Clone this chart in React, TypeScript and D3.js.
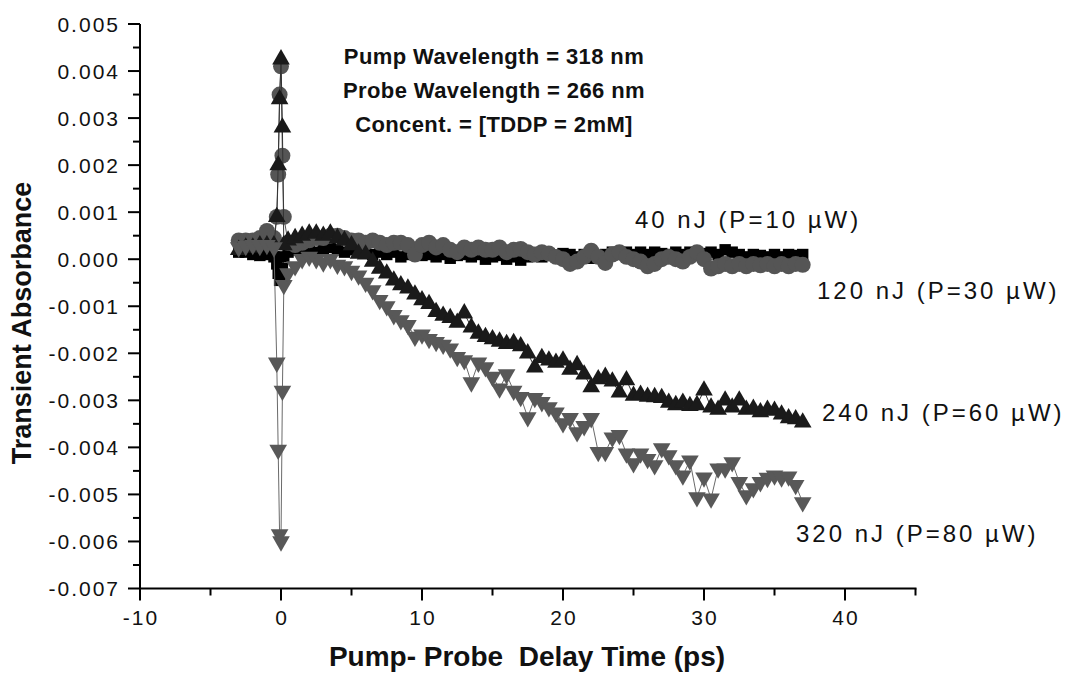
import React from "react";
import * as d3 from "d3";

// Delay times (ps)
const times = [
  -3, -2.5, -2, -1.5, -1, -0.5,
  -0.3, -0.2, -0.1, 0, 0.1, 0.2,
  0.5, 1, 1.5, 2, 2.5, 3, 3.5, 4, 4.5, 5,
  5.5, 6, 6.5, 7, 7.5, 8, 8.5, 9, 9.5, 10,
  10.5, 11, 11.5, 12, 12.5, 13, 13.5, 14, 14.5, 15,
  15.5, 16, 16.5, 17, 17.5, 18, 18.5, 19, 19.5, 20,
  20.5, 21, 21.5, 22, 22.5, 23, 23.5, 24, 24.5, 25,
  25.5, 26, 26.5, 27, 27.5, 28, 28.5, 29, 29.5, 30,
  30.5, 31, 31.5, 32, 32.5, 33, 33.5, 34, 34.5, 35,
  35.5, 36, 36.5, 37,
];

// Transient absorbance, in units of 1e-3
const s40 = [
  0.15, 0.15, 0.1, 0.08, 0.1, 0.05,
  -0.1, -0.3, -0.45, -0.4, -0.2, 0.05,
  0.15, 0.2, 0.15, 0.2, 0.15, 0.2, 0.25, 0.2, 0.15, 0.2,
  0.15, 0.2, 0.1, 0.15, 0.1, 0.15, 0.05, 0.1, 0.15, 0.08,
  0.1, 0.05, 0.1, 0.02, 0.08, 0.1, 0.05, 0.1, 0.0, 0.05,
  0.08, 0.0, 0.05, -0.02, 0.05, 0.1, 0.05, 0.12, 0.08, 0.12,
  0.1, 0.05, 0.1, 0.02, 0.05, 0.1, 0.15, 0.1, 0.15, 0.1,
  0.15, 0.1, 0.15, 0.12, 0.1, 0.15, 0.1, 0.15, 0.08, 0.12,
  0.15, 0.1, 0.2, 0.15, 0.1, 0.05, 0.1, 0.08, 0.05, 0.1,
  0.05, 0.1, 0.08, 0.1,
];

const s120 = [
  0.4, 0.4, 0.4, 0.45, 0.6, 0.45,
  0.9, 1.8, 3.5, 4.1, 2.2, 0.9,
  0.35, 0.3, 0.35, 0.4, 0.45, 0.45, 0.5, 0.5, 0.45, 0.4,
  0.4, 0.35, 0.4, 0.35, 0.3, 0.35, 0.35, 0.3, 0.1, 0.3,
  0.35, 0.25, 0.3, 0.2, 0.15, 0.25, 0.2, 0.25, 0.2, 0.2,
  0.25, 0.15, 0.2, 0.22, 0.15, 0.1, 0.15, 0.12, 0.05, 0.0,
  -0.1, -0.05, 0.05, 0.18, 0.05, -0.08, 0.1, 0.15, 0.05, 0.0,
  -0.05, -0.15, -0.1, 0.0, 0.05, 0.0, -0.05, 0.05, 0.15, 0.0,
  -0.2, -0.15, -0.1, -0.15, -0.1, -0.15, -0.1, -0.13, -0.1, -0.15,
  -0.1, -0.15, -0.1, -0.12,
];

const s240 = [
  0.2, 0.25, 0.25, 0.3, 0.3, 0.3,
  0.9, 2.0, 3.4, 4.25, 2.8, 0.3,
  0.4, 0.45, 0.5, 0.55, 0.55, 0.5, 0.55, 0.45, 0.4, 0.3,
  0.12, 0.1, -0.05, -0.2, -0.3, -0.45, -0.55, -0.62, -0.75, -0.87,
  -0.95, -1.12, -1.2, -1.25, -1.35, -1.15, -1.45, -1.58, -1.65, -1.7,
  -1.75, -1.8, -1.78, -1.85, -2.0, -2.3, -2.1, -2.15, -2.2, -2.15,
  -2.35, -2.25, -2.45, -2.72, -2.55, -2.5, -2.6, -2.83, -2.57, -2.9,
  -2.88, -2.92, -2.93, -2.95, -3.05, -3.1, -3.05, -3.12, -3.1, -2.79,
  -3.15, -3.2, -3.0, -3.15, -3.0, -3.2, -3.18, -3.25, -3.2, -3.22,
  -3.3, -3.38, -3.4, -3.47,
];

const s320 = [
  0.25, 0.28, 0.3, 0.28, 0.3, 0.25,
  -2.2, -4.05, -5.85, -6.0, -2.8, -0.55,
  -0.3, -0.15, 0.0, 0.05, 0.0, -0.07, 0.0, -0.12, -0.15, -0.25,
  -0.35, -0.5, -0.66, -0.87, -1.0, -1.19, -1.3, -1.4, -1.65, -1.6,
  -1.7, -1.76, -1.82, -1.9, -2.08, -2.15, -2.62, -2.2, -2.3, -2.5,
  -2.75, -2.45, -2.8, -2.93, -3.36, -2.95, -3.04, -3.15, -3.26, -3.49,
  -3.38, -3.68, -3.55, -3.38, -4.1, -4.1, -3.79, -3.74, -4.13, -4.34,
  -4.13, -4.25, -4.38, -4.02, -4.17, -4.38, -4.6, -4.28, -5.06, -4.64,
  -5.09, -4.45, -4.45, -4.32, -4.74, -5.02, -4.87, -4.74, -4.65, -4.6,
  -4.64, -4.62, -4.8, -5.17,
];

const seriesLabels = ["40 nJ (P=10 µW)", "120 nJ (P=30 µW)", "240 nJ (P=60 µW)", "320 nJ (P=80 µW)"];
const notes = ["Pump Wavelength = 318 nm", "Probe Wavelength = 266 nm", "Concent. = [TDDP = 2mM]"];
const xTitle = "Pump- Probe  Delay Time (ps)";
const yTitle = "Transient Absorbance";
const xMajor = [-10, 0, 10, 20, 30, 40];
const xMinor = [-5, 5, 15, 25, 35, 45];
const yMajor = [-7, -6, -5, -4, -3, -2, -1, 0, 1, 2, 3, 4, 5];

const FONT = "Arial, 'Liberation Sans', Helvetica, sans-serif";

export default function App() {
  const W = 1066, H = 673;
  const x = d3.scaleLinear().domain([-10, 45]).range([140, 915.5]);
  const y = d3.scaleLinear().domain([-7, 5]).range([588.5, 24]);
  const yMinor = yMajor.slice(0, -1).map((v) => v + 0.5);

  const line = (vals: number[]) =>
    d3.line<number>().x((_, i) => x(times[i])).y((v) => y(v))(vals) || "";

  const sq = d3.symbol().type(d3.symbolSquare).size(130)() || "";
  const circ = d3.symbol().type(d3.symbolCircle).size(200)() || "";
  const tri = d3.symbol().type(d3.symbolTriangle).size(135)() || "";

  const series = [
    { vals: s40, path: sq, color: "#000000", rot: 0, line: "#000000" },
    { vals: s120, path: circ, color: "#555555", rot: 0, line: "#555555" },
    { vals: s240, path: tri, color: "#1a1a1a", rot: 0, line: "#333333" },
    { vals: s320, path: tri, color: "#585858", rot: 180, line: "#6a6a6a" },
  ];

  const labelPos = [
    { x: 635, y: 228 },
    { x: 817, y: 299 },
    { x: 822, y: 421 },
    { x: 796, y: 542 },
  ];

  return (
    <svg
      width={W}
      height={H}
      style={{ position: "absolute", left: 0, top: 0, background: "#fff" }}
      fontFamily={FONT}
    >
      <rect width={W} height={H} fill="#fff" />
      {/* series */}
      {series.map((s, si) => (
        <g key={si}>
          <path d={line(s.vals)} fill="none" stroke={s.line} strokeWidth={1} />
          {s.vals.map((v, i) => (
            <path
              key={i}
              d={s.path}
              fill={s.color}
              transform={`translate(${x(times[i])},${y(v)}) rotate(${s.rot})`}
            />
          ))}
        </g>
      ))}

      {/* axes */}
      <g stroke="#000" strokeWidth={2}>
        <line x1={140} x2={140} y1={y(5)} y2={y(-7) + 1} />
        <line x1={139} x2={x(45) + 1} y1={y(-7)} y2={y(-7)} />
        {yMajor.map((v) => (
          <line key={"ym" + v} x1={128} x2={140} y1={y(v)} y2={y(v)} />
        ))}
        {yMinor.map((v) => (
          <line key={"yn" + v} x1={133} x2={140} y1={y(v)} y2={y(v)} />
        ))}
        {xMajor.map((v) => (
          <line key={"xm" + v} x1={x(v)} x2={x(v)} y1={y(-7)} y2={y(-7) + 12} />
        ))}
        {xMinor.map((v) => (
          <line key={"xn" + v} x1={x(v)} x2={x(v)} y1={y(-7)} y2={y(-7) + 7} />
        ))}
      </g>
      <g fontSize={21} fill="#111" style={{ letterSpacing: "2px" }}>
        {yMajor.map((v) => (
          <text key={"yl" + v} x={120} y={y(v) + 7.5} textAnchor="end">
            {(v / 1000).toFixed(3)}
          </text>
        ))}
        {xMajor.map((v) => (
          <text key={"xl" + v} x={x(v) + 1} y={625} textAnchor="middle">
            {String(v)}
          </text>
        ))}
      </g>

      {/* titles */}
      <text
        x={527}
        y={666}
        textAnchor="middle"
        fontSize={28}
        fontWeight="bold"
        fill="#111"
        style={{ whiteSpace: "pre" }}
      >
        {xTitle}
      </text>
      <text
        transform={`translate(31,323) rotate(-90)`}
        textAnchor="middle"
        fontSize={27}
        fontWeight="bold"
        fill="#111"
      >
        {yTitle}
      </text>

      {/* annotations */}
      {notes.map((n, i) => (
        <text
          key={n}
          x={494}
          y={64 + i * 34}
          textAnchor="middle"
          fontSize={22}
          fontWeight="bold"
          fill="#111"
          style={{ letterSpacing: "0.4px" }}
        >
          {n}
        </text>
      ))}

      {/* series labels */}
      {seriesLabels.map((l, i) => (
        <text
          key={l}
          x={labelPos[i].x}
          y={labelPos[i].y}
          fontSize={24}
          fill="#111"
          style={{ letterSpacing: "3px" }}
        >
          {l}
        </text>
      ))}
    </svg>
  );
}
